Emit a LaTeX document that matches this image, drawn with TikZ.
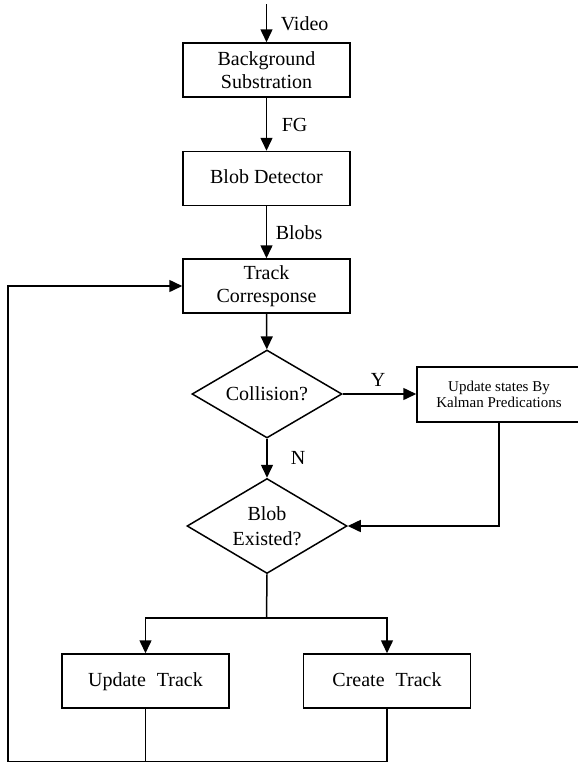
\documentclass[tikz,border=0pt]{standalone}
\usepackage{fontspec}
\setmainfont{Liberation Serif}
\usetikzlibrary{shapes.geometric,arrows.meta,calc}
\begin{document}
\begin{tikzpicture}[x=1pt,y=-1pt,
  line width=1.5pt,
  every node/.style={font=\fontsize{20}{23}\selectfont},
  stepbox/.style={draw, rectangle, minimum width=167pt, minimum height=54pt, align=center, inner sep=2pt},
  onebox/.style={stepbox, text height=14pt, text depth=4pt},
  decision/.style={draw, diamond, align=center, inner sep=0pt},
  flow/.style={-{Triangle[length=13pt,width=12pt]}},
  tag/.style={inner sep=0pt}]
\useasboundingbox (0,0) rectangle (578,763);

% processing steps
\node[stepbox] (bg) at (266.5,70) {Background\\Substration};
\node[onebox] (blob) at (266.5,178.5) {Blob Detector};
\node[stepbox] (track) at (266.5,286) {Track\\Corresponse};
\node[decision, aspect=1.7, minimum width=150pt, minimum height=88pt] (coll) at (267,394) {Collision?};
\node[stepbox, minimum width=164pt, minimum height=55pt, font=\fontsize{15}{16}\selectfont] (kalman) at (499,394.5) {Update states By\\Kalman Predications};
\node[decision, aspect=1.68, minimum width=160pt, minimum height=95pt, font=\fontsize{20}{25}\selectfont] (exist) at (267,526) {Blob\\Existed?};
\node[onebox] (upd) at (145.5,681) {Update\hspace{0.55em}Track};
\node[onebox] (create) at (387,681) {Create\hspace{0.55em}Track};

% helper points
\coordinate (in) at (266.5,4);
\coordinate (split) at (266.5,618);
\coordinate (corner) at (8,761.5);

% connectors
\draw[flow] (in) -- (bg);
\draw[flow] (bg) -- (blob);
\draw[flow] (blob) -- (track);
\draw[flow] (track) -- (coll);
\draw[flow] (coll.east) -- (coll.east -| kalman.west);
\draw[flow] (coll) -- (exist);
\draw[flow] (kalman.south) |- (exist.east);
\draw (exist.south) -- (split);
\draw[flow] (split) -| (upd.north);
\draw[flow] (split) -| (create.north);
\draw (upd.south) -- (upd.south |- corner);
\draw[flow] (create.south) |- (corner) |- (track.west);

% edge labels
\node[tag, anchor=west] (lvideo) at (280,24) {Video};
\node[tag, anchor=west] (lfg) at (281,125) {FG};
\node[tag, anchor=west] (lblobs) at (275,233) {Blobs};
\node[tag] (lyes) at (378,380) {Y};
\node[tag] (lno) at (298,458) {N};
\end{tikzpicture}
\end{document}
